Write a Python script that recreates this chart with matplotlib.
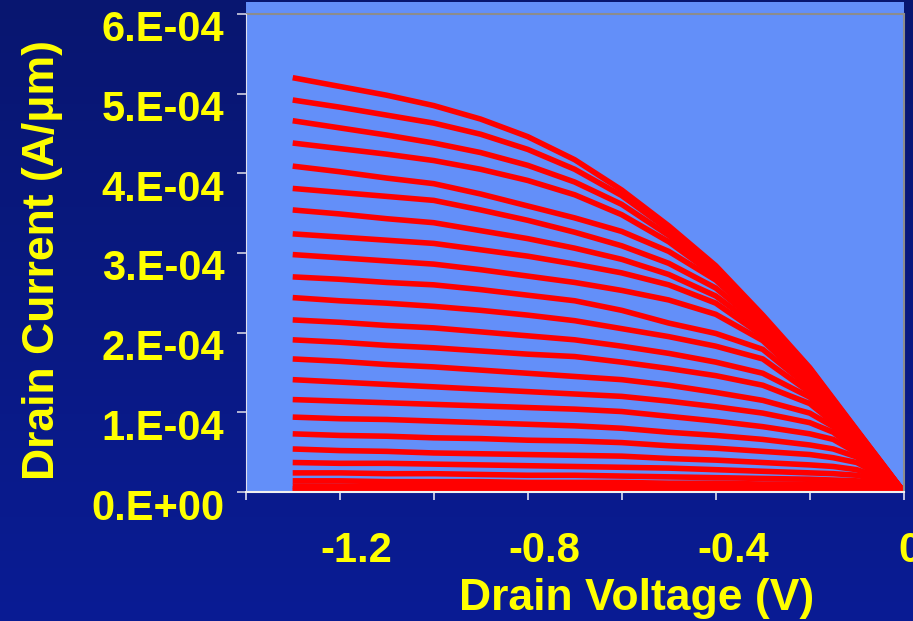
import numpy as np
import matplotlib
matplotlib.use("Agg")
import matplotlib.pyplot as plt
from matplotlib.colors import LinearSegmentedColormap
from matplotlib.transforms import ScaledTranslation

plt.rcParams['font.family'] = ['Liberation Sans', 'DejaVu Sans']
plt.rcParams['font.weight'] = 'bold'

# drain voltage grid (V)
vd = [-1.3, -1.2, -1.1, -1.0, -0.9, -0.8, -0.7, -0.6, -0.5, -0.4, -0.3, -0.2, -0.15, -0.1, -0.05, 0.0]

# drain current, units of 1e-4 A/um, one list per gate step (top to bottom)
id_00 = [5.20, 5.09, 4.98, 4.85, 4.68, 4.46, 4.17, 3.79, 3.34, 2.84, 2.22, 1.56, 1.17, 0.78, 0.39, 0]
id_01 = [4.92, 4.83, 4.73, 4.63, 4.49, 4.30, 4.05, 3.72, 3.29, 2.80, 2.19, 1.55, 1.16, 0.77, 0.39, 0]
id_02 = [4.66, 4.57, 4.48, 4.38, 4.26, 4.10, 3.89, 3.61, 3.22, 2.76, 2.17, 1.54, 1.15, 0.77, 0.38, 0]
id_03 = [4.38, 4.31, 4.24, 4.16, 4.05, 3.91, 3.73, 3.48, 3.14, 2.71, 2.14, 1.52, 1.14, 0.76, 0.38, 0]
id_04 = [4.09, 4.02, 3.94, 3.87, 3.74, 3.59, 3.44, 3.27, 3.02, 2.66, 2.11, 1.50, 1.12, 0.75, 0.37, 0]
id_05 = [3.81, 3.76, 3.71, 3.66, 3.54, 3.41, 3.26, 3.09, 2.87, 2.56, 2.07, 1.47, 1.11, 0.74, 0.37, 0]
id_06 = [3.54, 3.49, 3.43, 3.38, 3.28, 3.18, 3.06, 2.92, 2.73, 2.46, 2.02, 1.42, 1.06, 0.71, 0.35, 0]
id_07 = [3.24, 3.20, 3.16, 3.12, 3.04, 2.96, 2.86, 2.75, 2.60, 2.37, 1.96, 1.38, 1.03, 0.69, 0.34, 0]
id_08 = [2.98, 2.94, 2.90, 2.86, 2.79, 2.71, 2.63, 2.53, 2.41, 2.23, 1.90, 1.34, 1.01, 0.67, 0.34, 0]
id_09 = [2.70, 2.67, 2.63, 2.60, 2.54, 2.47, 2.40, 2.28, 2.12, 1.99, 1.79, 1.31, 0.99, 0.66, 0.33, 0]
id_10 = [2.44, 2.40, 2.37, 2.33, 2.28, 2.22, 2.15, 2.05, 1.95, 1.83, 1.67, 1.25, 0.95, 0.63, 0.32, 0]
id_11 = [2.16, 2.13, 2.09, 2.06, 2.01, 1.96, 1.91, 1.83, 1.74, 1.63, 1.49, 1.19, 0.91, 0.61, 0.30, 0]
id_12 = [1.91, 1.88, 1.84, 1.81, 1.77, 1.73, 1.70, 1.63, 1.55, 1.46, 1.34, 1.11, 0.87, 0.58, 0.29, 0]
id_13 = [1.67, 1.64, 1.60, 1.57, 1.53, 1.49, 1.45, 1.41, 1.34, 1.25, 1.15, 0.99, 0.82, 0.55, 0.28, 0]
id_14 = [1.41, 1.38, 1.35, 1.32, 1.29, 1.26, 1.23, 1.20, 1.14, 1.07, 0.99, 0.87, 0.75, 0.52, 0.26, 0]
id_15 = [1.16, 1.14, 1.12, 1.10, 1.08, 1.06, 1.04, 1.01, 0.95, 0.89, 0.82, 0.73, 0.66, 0.49, 0.25, 0]
id_16 = [0.94, 0.92, 0.91, 0.89, 0.87, 0.85, 0.83, 0.80, 0.75, 0.71, 0.66, 0.59, 0.54, 0.44, 0.23, 0]
id_17 = [0.73, 0.71, 0.70, 0.68, 0.67, 0.65, 0.64, 0.62, 0.58, 0.55, 0.51, 0.47, 0.43, 0.37, 0.21, 0]
id_18 = [0.54, 0.52, 0.51, 0.49, 0.48, 0.47, 0.46, 0.45, 0.42, 0.40, 0.37, 0.34, 0.32, 0.28, 0.18, 0]
id_19 = [0.37, 0.36, 0.36, 0.35, 0.34, 0.33, 0.32, 0.31, 0.30, 0.28, 0.26, 0.24, 0.23, 0.21, 0.15, 0]
id_20 = [0.24, 0.24, 0.23, 0.23, 0.22, 0.21, 0.21, 0.20, 0.19, 0.18, 0.17, 0.16, 0.15, 0.14, 0.11, 0]
id_21 = [0.14, 0.14, 0.13, 0.13, 0.13, 0.12, 0.12, 0.12, 0.11, 0.11, 0.10, 0.10, 0.09, 0.09, 0.07, 0]
id_22 = [0.075, 0.073, 0.071, 0.070, 0.068, 0.067, 0.065, 0.064, 0.062, 0.060, 0.058, 0.055, 0.053, 0.050, 0.042, 0]
id_23 = [0.040, 0.039, 0.038, 0.037, 0.036, 0.035, 0.035, 0.034, 0.033, 0.032, 0.031, 0.029, 0.028, 0.027, 0.023, 0]
id_24 = [0.012, 0.012, 0.011, 0.011, 0.011, 0.011, 0.010, 0.010, 0.010, 0.010, 0.009, 0.009, 0.009, 0.008, 0.007, 0]

curves = [id_00, id_01, id_02, id_03, id_04, id_05, id_06, id_07, id_08, id_09,
          id_10, id_11, id_12, id_13, id_14, id_15, id_16, id_17, id_18, id_19,
          id_20, id_21, id_22, id_23, id_24]

xticks = [-1.4, -1.2, -1.0, -0.8, -0.6, -0.4, -0.2, 0.0]
xticklabels = ['', '-1.2', '', '-0.8', '', '-0.4', '', '0']
yticks = [0, 1e-4, 2e-4, 3e-4, 4e-4, 5e-4, 6e-4]
yticklabels = ['0.E+00', '1.E-04', '2.E-04', '3.E-04', '4.E-04', '5.E-04', '6.E-04']

W, H = 913, 621
fig = plt.figure(figsize=(W / 100, H / 100), dpi=100)

# dark blue slide background
bg = fig.add_axes([0, 0, 1, 1], zorder=-10)
grad = np.linspace(0, 1, 256).reshape(-1, 1)
cmap = LinearSegmentedColormap.from_list('slide', ['#081670', '#0A1C94'])
bg.imshow(grad, aspect='auto', cmap=cmap, extent=[0, 1, 0, 1], origin='upper')
bg.axis('off')

ax = fig.add_axes([245.7 / W, 129 / H, (903.8 - 245.7) / W, 490 / H])
ax.set_facecolor('#638FF9')

for cur in curves:
    ax.plot(vd, np.array(cur) * 1e-4, color='#FF0000', lw=4.0, solid_capstyle='butt')

ax.set_xlim(-1.4, 0)
ax.set_ylim(0, 6.15e-4)
ax.axhline(6e-4, color='#8C8C8C', lw=1.5, zorder=1)

ax.set_xticks(xticks)
ax.set_xticklabels(xticklabels)
ax.set_yticks(yticks)
ax.set_yticklabels(yticklabels)

ax.tick_params(axis='x', direction='out', length=6, width=1.2, color='#E0E0F0',
               labelcolor='#FFFF00', labelsize=30, pad=22)
ax.tick_params(axis='y', direction='out', length=6.5, width=1.2, color='#D0D0E0',
               labelcolor='#FFFF00', labelsize=30, pad=9)

ax.spines['top'].set_visible(False)
ax.spines['right'].set_color('#8C8C8C')
ax.spines['right'].set_linewidth(1.5)
ax.spines['right'].set_bounds(0, 6e-4)
ax.spines['left'].set_color('#E0E0F0')
ax.spines['left'].set_bounds(0, 6e-4)
ax.spines['bottom'].set_color('#F0F0F0')
ax.spines['bottom'].set_linewidth(1.5)

# the tick labels sit a little off their ticks in the original
for lab in ax.get_xticklabels():
    dx = 0.06 if lab.get_text() == '0' else 0.17
    lab.set_transform(lab.get_transform() + ScaledTranslation(dx, 0, fig.dpi_scale_trans))
for lab in ax.get_yticklabels():
    lab.set_transform(lab.get_transform() + ScaledTranslation(0, -0.12, fig.dpi_scale_trans))

fig.text(637 / W, 11 / H, 'Drain Voltage (V)', color='#FFFF00', fontsize=32,
         fontweight='bold', ha='center', va='baseline')
fig.text(43 / W, 1 - 260 / H, 'Drain Current (A/\u03bcm)', color='#FFFF00', fontsize=32,
         fontweight='bold', rotation=90, ha='center', va='center')

fig.savefig('out.png', dpi=100)
